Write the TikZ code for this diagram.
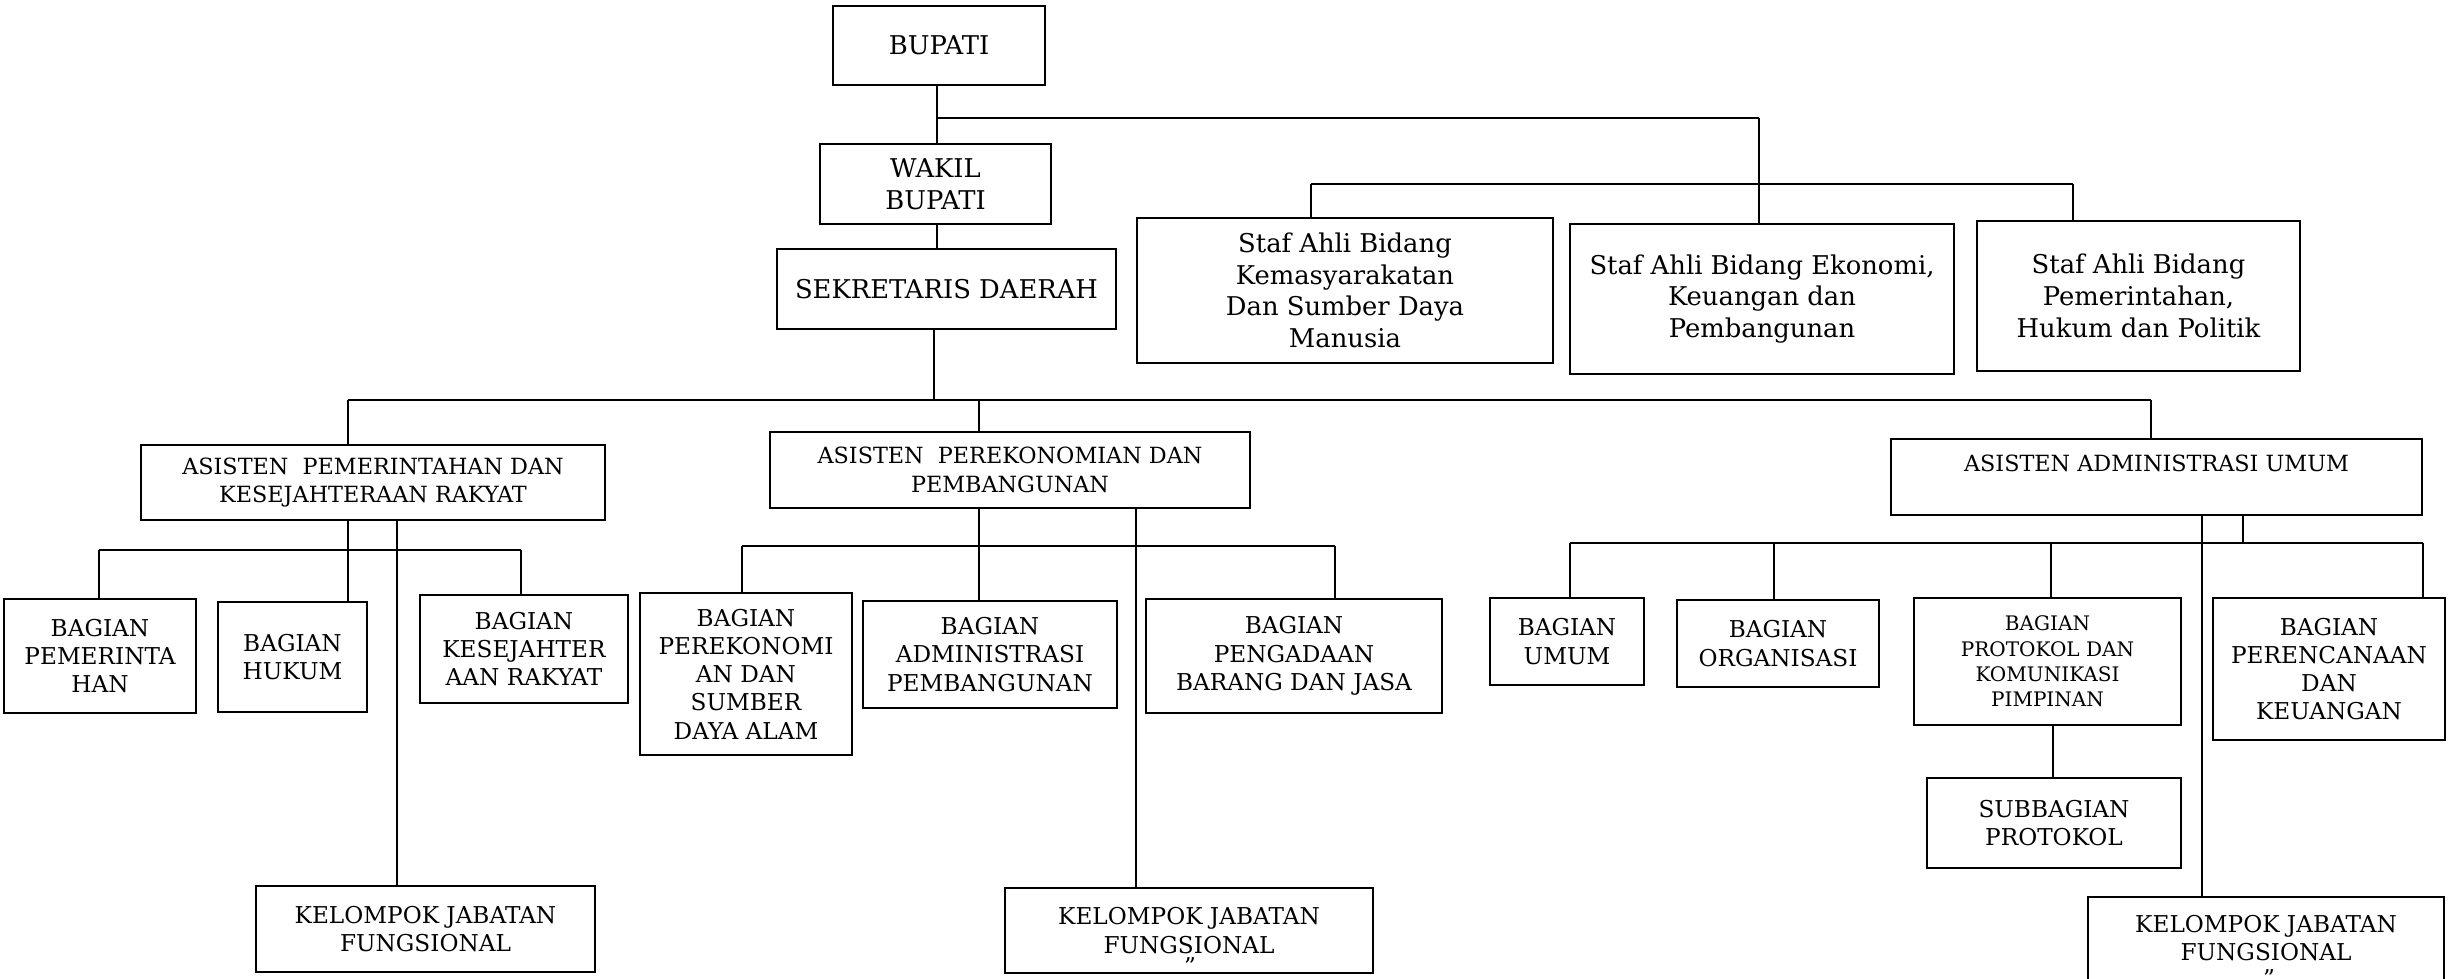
\documentclass[tikz,border=0pt]{standalone}
\usepackage{fontspec}
\setmainfont{DejaVu Serif}
\begin{document}
\begin{tikzpicture}[x=0.02cm,y=-0.02cm,
  box/.style={draw=black, line width=0.95pt, inner sep=0pt, outer sep=0pt, align=center},
  corners/.style n args={4}{minimum width={(#3-#1)*0.02cm}, minimum height={(#4-#2)*0.02cm},
    at={({(#1+#3)/2},{(#2+#4)/2})}},
  big/.style={font=\fontsize{14.7}{18}\selectfont},
  asst/.style={font=\fontsize{12.7}{16.2}\selectfont},
  mid/.style={font=\fontsize{13.2}{16.1}\selectfont},
  small/.style={font=\fontsize{11.4}{14.4}\selectfont},
  link/.style={draw=black, line width=0.78pt},
  bus/.style={draw=black, line width=0.98pt},
]
\clip (0,0) rectangle (2449,979);
\fill[white] (0,0) rectangle (2449,979);

% --- top level ---
\node[box,big,corners={833}{6}{1045}{85}] (bupati) {BUPATI};
\node[box,big,corners={820}{144}{1051}{224}] (wakil) {WAKIL\\BUPATI};
\node[box,big,corners={777}{249}{1116}{329}] (sekda) {SEKRETARIS DAERAH};

% --- expert staff ---
\node[box,big,corners={1137}{218}{1553}{363}] (stafA) {Staf Ahli Bidang\\Kemasyarakatan\\Dan Sumber Daya\\Manusia};
\node[box,big,corners={1570}{224}{1954}{374}] (stafB) {Staf Ahli Bidang Ekonomi,\\Keuangan dan\\Pembangunan};
\node[box,big,corners={1977}{221}{2300}{371}] (stafC) {Staf Ahli Bidang\\Pemerintahan,\\Hukum dan Politik};

% --- assistants ---
\node[box,asst,corners={141}{445}{605}{520}] (asA) {ASISTEN\ \ PEMERINTAHAN DAN\\KESEJAHTERAAN RAKYAT};
\node[box,asst,corners={770}{432}{1250}{508}] (asB) {ASISTEN\ \ PEREKONOMIAN DAN\\PEMBANGUNAN};
\node[box,asst,corners={1891}{439}{2422}{515}] (asC) {ASISTEN ADMINISTRASI UMUM\\~};

% --- sections under asA ---
\node[box,mid,corners={4}{599}{196}{713}] (bPem) {BAGIAN\\PEMERINTA\\HAN};
\node[box,mid,corners={218}{602}{367}{712}] (bHuk) {BAGIAN\\HUKUM};
\node[box,mid,corners={420}{595}{628}{703}] (bKes) {BAGIAN\\KESEJAHTER\\AAN RAKYAT};
\node[box,mid,corners={256}{886}{595}{972}] (kjfA) {KELOMPOK JABATAN\\FUNGSIONAL};

% --- sections under asB ---
\node[box,mid,corners={640}{593}{852}{755}] (bEko) {BAGIAN\\PEREKONOMI\\AN DAN\\SUMBER\\DAYA ALAM};
\node[box,mid,corners={863}{601}{1117}{708}] (bAdm) {BAGIAN\\ADMINISTRASI\\PEMBANGUNAN};
\node[box,mid,corners={1146}{599}{1442}{713}] (bPbj) {BAGIAN\\PENGADAAN\\BARANG DAN JASA};
\node[box,mid,corners={1005}{888}{1373}{973}] (kjfB) {KELOMPOK JABATAN\\FUNGSIONAL};
\node[mid,inner sep=0pt,anchor=north] (qB) at (1190,957) {"};

% --- sections under asC ---
\node[box,mid,corners={1490}{598}{1644}{685}] (bUmu) {BAGIAN\\UMUM};
\node[box,mid,corners={1677}{600}{1879}{687}] (bOrg) {BAGIAN\\ORGANISASI};
\node[box,small,corners={1914}{598}{2181}{725}] (bPro) {BAGIAN\\PROTOKOL DAN\\KOMUNIKASI\\PIMPINAN};
\node[box,mid,corners={2213}{598}{2445}{740}] (bRen) {BAGIAN\\PERENCANAAN\\DAN\\KEUANGAN};
\node[box,mid,corners={1927}{778}{2181}{868}] (sPro) {SUBBAGIAN\\PROTOKOL};
\node[box,mid,corners={2088}{897}{2444}{1030}] (kjfC) {};
\node[mid,inner sep=0pt,align=center,anchor=north] (kjfCt) at (2266,915) {KELOMPOK JABATAN\\FUNGSIONAL};
\node[mid,inner sep=0pt,anchor=north] (qC) at (2269,969) {"};

% --- junction points ---
\coordinate (tA) at (937,118);
\coordinate (sB) at (1759,118);
\coordinate (sL) at (1311,184);
\coordinate (sR) at (2073,184);
\coordinate (mS) at (934,400);
\coordinate (mL) at (348,400);
\coordinate (mM) at (979,400);
\coordinate (mR) at (2151,400);
\coordinate (aL) at (99,550);
\coordinate (aR) at (521,550);
\coordinate (aH) at (348,550);
\coordinate (aK) at (397,0);
\coordinate (bL) at (742,546);
\coordinate (bR) at (1335,546);
\coordinate (bM) at (979,546);
\coordinate (bK) at (1136,0);
\coordinate (cL) at (1570,543);
\coordinate (cR) at (2423,543);
\coordinate (cT) at (2243,543);
\coordinate (cO) at (1774,543);
\coordinate (cP) at (2051,543);
\coordinate (cK) at (2202,0);
\coordinate (cS) at (2053,0);

% --- top spine and staff ---
\draw[link] (bupati.south -| tA) -- (wakil.north -| tA);
\draw[link] (wakil.south -| tA) -- (sekda.north -| tA);
\draw[bus] (tA) -- (sB);
\draw[link] (sB) -- (stafB.north -| sB);
\draw[bus] (sL) -- (sR);
\draw[link] (sL) -- (stafA.north -| sL);
\draw[link] (sR) -- (stafC.north -| sR);

% --- secretary to assistants ---
\draw[link] (sekda.south -| mS) -- (mS);
\draw[bus] (mL) -- (mR);
\draw[link] (mL) -- (asA.north -| mL);
\draw[link] (mM) -- (asB.north -| mM);
\draw[link] (mR) -- (asC.north -| mR);

% --- asA branch ---
\draw[link] (asA.south -| aH) -- (bHuk.north -| aH);
\draw[bus] (aL) -- (aR);
\draw[link] (aL) -- (bPem.north -| aL);
\draw[link] (aR) -- (bKes.north -| aR);
\draw[link] (asA.south -| aK) -- (kjfA.north -| aK);

% --- asB branch ---
\draw[link] (asB.south -| bM) -- (bAdm.north -| bM);
\draw[bus] (bL) -- (bR);
\draw[link] (bL) -- (bEko.north -| bL);
\draw[link] (bR) -- (bPbj.north -| bR);
\draw[link] (asB.south -| bK) -- (kjfB.north -| bK);

% --- asC branch ---
\draw[link] (asC.south -| cT) -- (cT);
\draw[bus] (cL) -- (cR);
\draw[link] (cL) -- (bUmu.north -| cL);
\draw[link] (cO) -- (bOrg.north -| cO);
\draw[link] (cP) -- (bPro.north -| cP);
\draw[link] (cR) -- (bRen.north -| cR);
\draw[link] (asC.south -| cK) -- (kjfC.north -| cK);
\draw[link] (bPro.south -| cS) -- (sPro.north -| cS);
\end{tikzpicture}
\end{document}
